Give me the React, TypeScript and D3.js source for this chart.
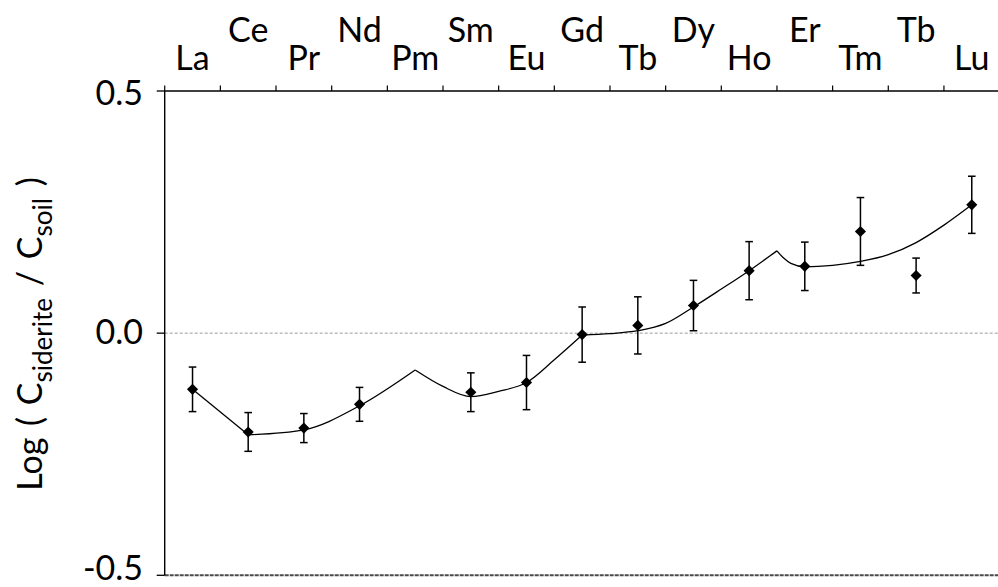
import React from "react";
import * as d3 from "d3";

const categories = ["La", "Ce", "Pr", "Nd", "Pm", "Sm", "Eu", "Gd", "Tb", "Dy", "Ho", "Er", "Tm", "Tb", "Lu"];
const values: (number | null)[] = [-0.116, -0.204, -0.196, -0.147, null, -0.122, -0.102, -0.003, 0.016, 0.057, 0.129, 0.138, 0.21, 0.119, 0.265];
const errors: (number | null)[] = [0.046, 0.04, 0.03, 0.035, null, 0.04, 0.056, 0.057, 0.059, 0.052, 0.06, 0.05, 0.07, 0.036, 0.059];
const yTicks = [-0.5, 0, 0.5];
const yTickLabels = ["-0.5", "0.0", "0.5"];

// fitted model curve (position index, value)
const fit1Pos = [0, 1];
const fit1Val = [-0.116, -0.21];
const fit2Pos = [1, 2, 3, 4];
const fit2Val = [-0.21, -0.1995, -0.15, -0.076];
const fit3Pos = [4, 4.5, 5, 5.5, 6, 6.5, 7];
const fit3Val = [-0.076, -0.11, -0.131, -0.12, -0.102, -0.055, -0.004];
const fit4Pos = [7, 7.5, 8, 8.5, 9, 9.5, 10, 10.5];
const fit4Val = [-0.004, -0.001, 0.005, 0.02, 0.054, 0.091, 0.129, 0.17];
const fit5Pos = [10.5, 10.62, 10.75, 11, 11.5, 12, 12.5, 13, 13.5, 14];
const fit5Val = [0.17, 0.155, 0.144, 0.137, 0.14, 0.148, 0.162, 0.187, 0.223, 0.265];

const W = 998;
const H = 587;
const left = 164.7;
const right = 999.6;
const top = 91;
const bottom = 575.3;
const FONT = "Lato, 'Open Sans', sans-serif";

export default function App() {
  const n = categories.length;
  const x = d3.scaleLinear().domain([-0.5, n - 0.5]).range([left, right]);
  const y = d3.scaleLinear().domain([-0.5, 0.5]).range([bottom, top]);

  const line = d3
    .line<[number, number]>()
    .x((d) => x(d[0]))
    .y((d) => y(d[1]))
    .curve(d3.curveMonotoneX);

  const segs = [
    [fit1Pos, fit1Val],
    [fit2Pos, fit2Val],
    [fit3Pos, fit3Val],
    [fit4Pos, fit4Val],
    [fit5Pos, fit5Val],
  ].map(([p, v]) => p.map((pp, i) => [pp, v[i]] as [number, number]));

  const diamond = d3.symbol().type(d3.symbolSquare).size(62)();
  const tickPos = d3.range(n).map((i) => i - 0.5);

  return (
    <svg width={W} height={H} style={{ position: "absolute", left: 0, top: 0, background: "#fff" }}>
      {/* zero line */}
      <line x1={left} x2={right} y1={y(0)} y2={y(0)} stroke="#9a9a9a" strokeWidth={1} strokeDasharray="3,2" />
      {/* bottom line */}
      <line x1={left} x2={right} y1={y(-0.5)} y2={y(-0.5)} stroke="#4a4a4a" strokeWidth={2} strokeDasharray="4,1" />
      {/* left axis */}
      <line x1={left} x2={left} y1={top} y2={bottom} stroke="#000" strokeWidth={1.4} />
      {/* top axis */}
      <line x1={left} x2={right} y1={top} y2={top} stroke="#000" strokeWidth={1.4} />
      {tickPos.map((t, i) => (
        <line key={"xt" + i} x1={x(t)} x2={x(t)} y1={top} y2={top - 5.5} stroke="#000" strokeWidth={1.2} />
      ))}
      {yTicks.map((t, i) => (
        <g key={"yt" + i}>
          <line x1={left - 8} x2={left} y1={y(t)} y2={y(t)} stroke="#000" strokeWidth={1.3} />
          <text
            x={143}
            y={Math.max(105, Math.min(580, y(t) + 11))}
            textAnchor="end"
            fontFamily={FONT}
            fontSize={34}
            fill="#000"
          >
            {yTickLabels[i]}
          </text>
        </g>
      ))}
      {categories.map((c, i) => (
        <text
          key={"c" + i}
          x={x(i)}
          y={i % 2 === 0 ? 70 : 42.3}
          textAnchor="middle"
          fontFamily={FONT}
          fontSize={34}
          fill="#000"
        >
          {c}
        </text>
      ))}
      {/* model curve */}
      {segs.map((s, i) => (
        <path key={"s" + i} d={line(s) || ""} fill="none" stroke="#000" strokeWidth={1.3} />
      ))}
      {/* error bars and markers */}
      {values.map((v, i) => {
        if (v === null) return null;
        const e = errors[i] as number;
        const cx = x(i);
        return (
          <g key={"p" + i}>
            <line x1={cx} x2={cx} y1={y(v + e)} y2={y(v - e)} stroke="#000" strokeWidth={1.5} />
            <line x1={cx - 3.8} x2={cx + 3.8} y1={y(v + e)} y2={y(v + e)} stroke="#000" strokeWidth={1.5} />
            <line x1={cx - 3.8} x2={cx + 3.8} y1={y(v - e)} y2={y(v - e)} stroke="#000" strokeWidth={1.5} />
            <path d={diamond || ""} transform={`translate(${cx},${y(v)}) rotate(45)`} fill="#000" />
          </g>
        );
      })}
      {/* y axis title */}
      <text
        transform="translate(42,334) rotate(-90)"
        textAnchor="middle"
        fontFamily={FONT}
        fontSize={34}
        fill="#000"
        wordSpacing={3}
        style={{ whiteSpace: "pre" }}
      >
        {"Log ( C"}
        <tspan fontSize={26} dy={10}>
          siderite
        </tspan>
        <tspan dy={-10}>{" / C"}</tspan>
        <tspan fontSize={26} dy={10}>
          soil
        </tspan>
        <tspan dy={-10}>{" )"}</tspan>
      </text>
    </svg>
  );
}
